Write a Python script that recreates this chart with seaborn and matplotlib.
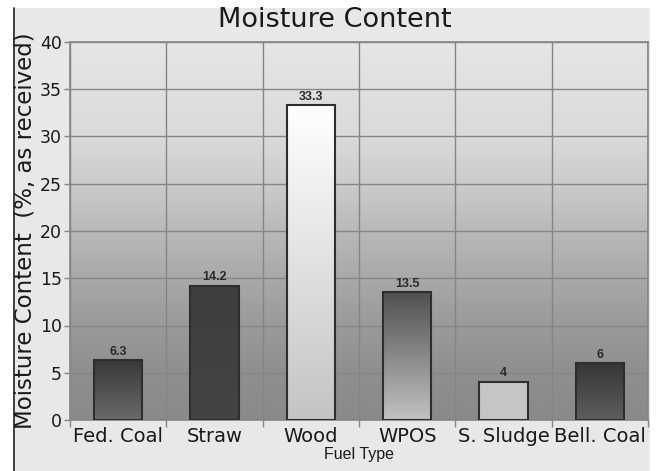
import numpy as np
import pandas as pd
import matplotlib
matplotlib.use("Agg")
import matplotlib.pyplot as plt
import seaborn as sns
from matplotlib.colors import LinearSegmentedColormap
from matplotlib.patches import Rectangle
from matplotlib.lines import Line2D

# Dados
fuel_types = ["Fed. Coal", "Straw", "Wood", "WPOS", "S. Sludge", "Bell. Coal"]
moisture = [6.3, 14.2, 33.3, 13.5, 4, 6]
value_labels = ["6.3", "14.2", "33.3", "13.5", "4", "6"]

# Estilo das barras (topo -> base)
bar_top = ["#383838", "#3e3e3e", "#ffffff", "#505050", "#c6c6c6", "#363636"]
bar_bottom = ["#6a6a6a", "#444444", "#c4c4c4", "#c2c2c2", "#c6c6c6", "#5e5e5e"]

sns.set_theme(style="white")
plt.rcParams["font.family"] = ["DejaVu Sans"]

fig = plt.figure(figsize=(6.58, 4.71), dpi=100)
fig.patch.set_facecolor("white")
fig.patches.append(Rectangle((15 / 658, 0), 635 / 658, 463 / 471, transform=fig.transFigure,
                             facecolor="#e8e8e8", edgecolor="none", zorder=-10))
fig.add_artist(Line2D([14 / 658, 14 / 658], [0, 463 / 471], transform=fig.transFigure,
                      color="#202020", lw=1.2))

ax = fig.add_axes([70 / 658, 51 / 471, 578 / 658, 378 / 471])

df = pd.DataFrame({"fuel": fuel_types, "moisture": moisture})
sns.barplot(data=df, x="fuel", y="moisture", ax=ax, width=0.5, color="white",
            edgecolor="#2e2e2e", linewidth=1.5, zorder=3)

ax.set_xlim(-0.5, len(fuel_types) - 0.5)
ax.set_ylim(0, 40)

# fundo em degradê
fundo = LinearSegmentedColormap.from_list(
    "fundo", [(0.0, "#8a8a8a"), (0.125, "#8f8f8f"), (0.25, "#9a9a9a"), (0.375, "#a9a9a9"),
              (0.5, "#b9b9b9"), (0.625, "#cbcbcb"), (0.75, "#dadada"), (1.0, "#e6e6e6")])
grad = np.linspace(0, 1, 256).reshape(-1, 1)
ax.imshow(grad, extent=[-0.5, len(fuel_types) - 0.5, 0, 40], aspect="auto", origin="lower",
          cmap=fundo, vmin=0, vmax=1, zorder=0)

# degradê nas barras
for patch, c1, c2 in zip(ax.patches, bar_top, bar_bottom):
    patch.set_facecolor("none")
    x0, y0 = patch.get_x(), patch.get_y()
    w, h = patch.get_width(), patch.get_height()
    cm = LinearSegmentedColormap.from_list("b", [c2, c1])
    im = ax.imshow(grad, extent=[x0, x0 + w, y0, y0 + h], aspect="auto", origin="lower",
                   cmap=cm, vmin=0, vmax=1, zorder=2.5)
    im.set_clip_path(patch)
ax.set_xlim(-0.5, len(fuel_types) - 0.5)
ax.set_ylim(0, 40)

ax.bar_label(ax.containers[0], labels=value_labels, padding=2, fontsize=9,
             family="Liberation Sans", fontweight="bold", color="#2a2a2a")

# grade
ax.set_yticks(range(0, 41, 5))
ax.set_xticks(np.arange(-0.5, len(fuel_types), 1), minor=True)
ax.set_axisbelow(True)
ax.yaxis.grid(True, color="#858585", lw=1)
ax.xaxis.grid(True, which="minor", color="#858585", lw=1)
ax.xaxis.grid(False, which="major")

for s in ax.spines.values():
    s.set_color("#858585")
    s.set_linewidth(1.2)

ax.tick_params(axis="x", which="major", length=0, labelsize=14, pad=5, labelcolor="#1a1a1a")
ax.tick_params(axis="x", which="minor", length=5, width=1, color="#858585", bottom=True)
ax.tick_params(axis="y", length=4, width=1, color="#858585", labelsize=12.5, pad=2,
               left=True, labelcolor="#1a1a1a")

ax.set_xlabel("Fuel Type", fontsize=11.5, family="Liberation Sans", labelpad=1, color="#1a1a1a")
ax.set_ylabel("Moisture Content  (%, as received)", fontsize=16.5, labelpad=2, color="#1a1a1a")
fig.text(335 / 658, 1 - 20 / 471, "Moisture Content", fontsize=19.5, ha="center", va="center",
         color="#1a1a1a")

fig.savefig("out.png", dpi=100)
